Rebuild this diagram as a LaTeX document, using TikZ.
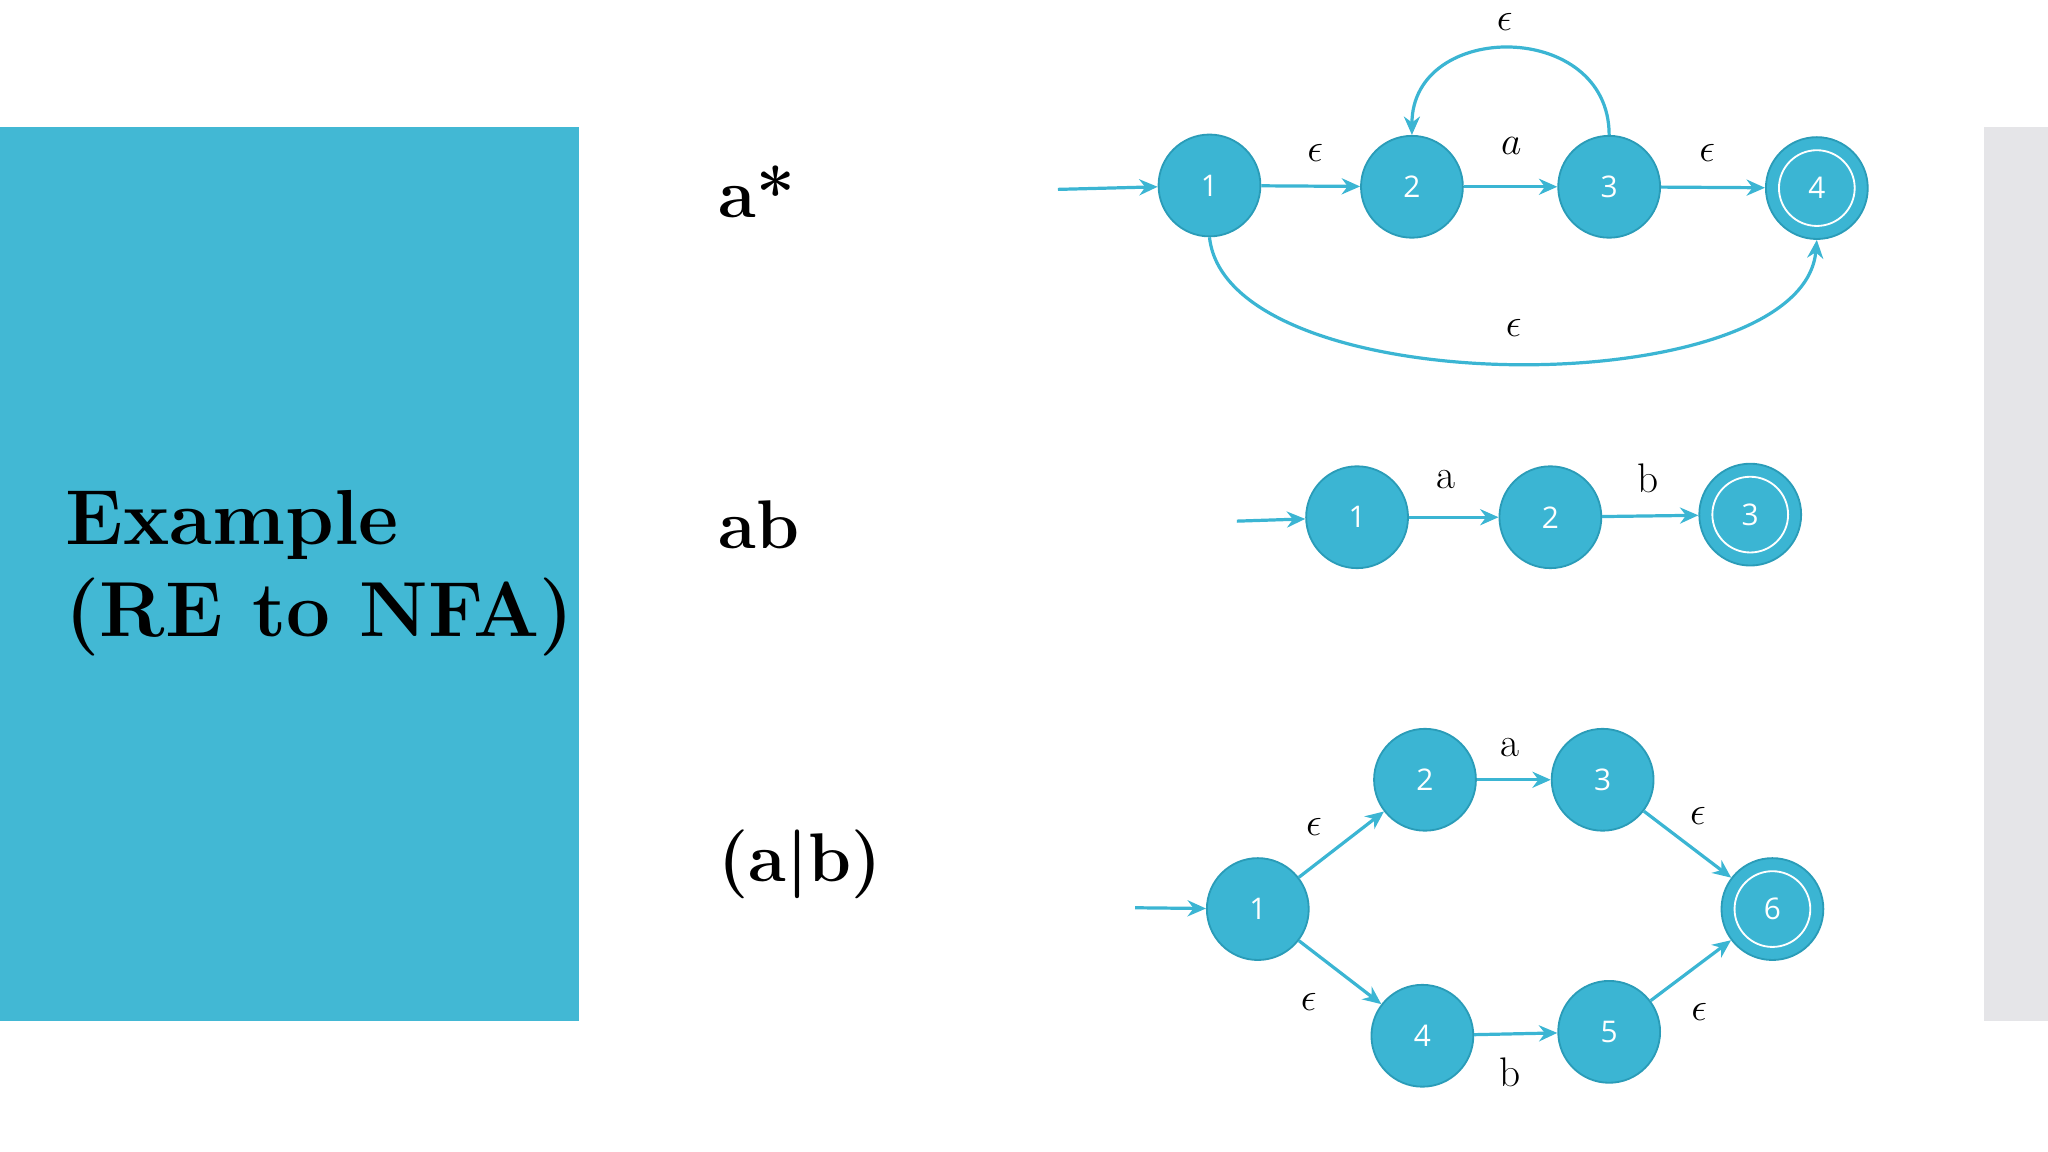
\documentclass[tikz,border=0pt]{standalone}
\usepackage{fontspec}
\newfontfamily\numfont{Open Sans}
\usetikzlibrary{arrows.meta}
\definecolor{tealbg}{HTML}{42B8D4}
\definecolor{stfill}{HTML}{3BB5D3}
\definecolor{stdraw}{HTML}{2A9CB8}
\definecolor{greybar}{HTML}{E5E5E8}
\begin{document}
\begin{tikzpicture}[x=0.02cm,y=-0.02cm,
  st/.style={circle,fill=stfill,draw=stdraw,line width=0.8pt,minimum size=1.56cm,inner sep=0pt,text=white,font=\numfont\fontsize{13}{13}\selectfont},
  acc/.style={st,double=white,double distance=0pt,postaction={draw=white,line width=0.8pt,shorten >=0pt}},
  edge/.style={draw=stfill,line width=1.4pt,-{Stealth[length=8pt,width=7pt]}},
  lbl/.style={font=\fontsize{18}{18}\selectfont},
  title/.style={font=\bfseries\fontsize{30}{36}\selectfont,anchor=west}]
\useasboundingbox (0,0) rectangle (1568,882);
\fill[tealbg] (0,97) rectangle (443,782);
\fill[greybar] (1519,97) rectangle (1568,782);
\node[font=\bfseries\fontsize{34}{40}\selectfont,align=left,anchor=west] (tt) at (44,439) {Example\\(RE to NFA)};
\node[title] (r1) at (544,147) {a*};
\node[title] (r2) at (544,402) {ab};
\node[title] (r3) at (544,662) {(a|b)};
% a*
\node[st] (a1) at (926,142) {1};
\node[st] (a2) at (1081,143) {2};
\node[st] (a3) at (1232,143) {3};
\node[st] (a4) at (1391,144) {4};
\draw[white,line width=0.8pt] (a4) circle[radius=0.58cm];
\coordinate (ai) at (810,145);
\draw[edge] (ai) -- (a1);
\draw[edge] (a1) -- (a2);
\draw[edge] (a2) -- (a3);
\draw[edge] (a3) -- (a4);
\draw[edge] (a3.north) .. controls (1232,15) and (1081,15) .. (a2.north);
\draw[edge] (a1.south) .. controls (940,310) and (1380,310) .. (a4.south);
\node[lbl] (l1) at (1007,117) {$\epsilon$};
\node[lbl] (l2) at (1157,112) {$a$};
\node[lbl] (l3) at (1307,117) {$\epsilon$};
\node[lbl] (l4) at (1152,17) {$\epsilon$};
\node[lbl] (l5) at (1159,251) {$\epsilon$};
% ab
\node[st] (b1) at (1039,396) {1};
\node[st] (b2) at (1187,396) {2};
\node[st] (b3) at (1340,394) {3};
\draw[white,line width=0.8pt] (b3) circle[radius=0.58cm];
\coordinate (bi) at (947,399);
\draw[edge] (bi) -- (b1);
\draw[edge] (b1) -- (b2);
\draw[edge] (b2) -- (b3);
\node[lbl] (m1) at (1107,367) {a};
\node[lbl] (m2) at (1262,366) {b};
% (a|b)
\node[st] (c1) at (963,696) {1};
\node[st] (c2) at (1091,597) {2};
\node[st] (c3) at (1227,597) {3};
\node[st] (c4) at (1089,793) {4};
\node[st] (c5) at (1232,790) {5};
\node[st] (c6) at (1357,696) {6};
\draw[white,line width=0.8pt] (c6) circle[radius=0.58cm];
\coordinate (ci) at (869,695);
\draw[edge] (ci) -- (c1);
\draw[edge] (c1) -- (c2);
\draw[edge] (c2) -- (c3);
\draw[edge] (c3) -- (c6);
\draw[edge] (c1) -- (c4);
\draw[edge] (c4) -- (c5);
\draw[edge] (c5) -- (c6);
\node[lbl] (n1) at (1006,633) {$\epsilon$};
\node[lbl] (n2) at (1156,572) {a};
\node[lbl] (n3) at (1300,625) {$\epsilon$};
\node[lbl] (n4) at (1002,767) {$\epsilon$};
\node[lbl] (n5) at (1156,821) {b};
\node[lbl] (n6) at (1301,775) {$\epsilon$};
\end{tikzpicture}
\end{document}
